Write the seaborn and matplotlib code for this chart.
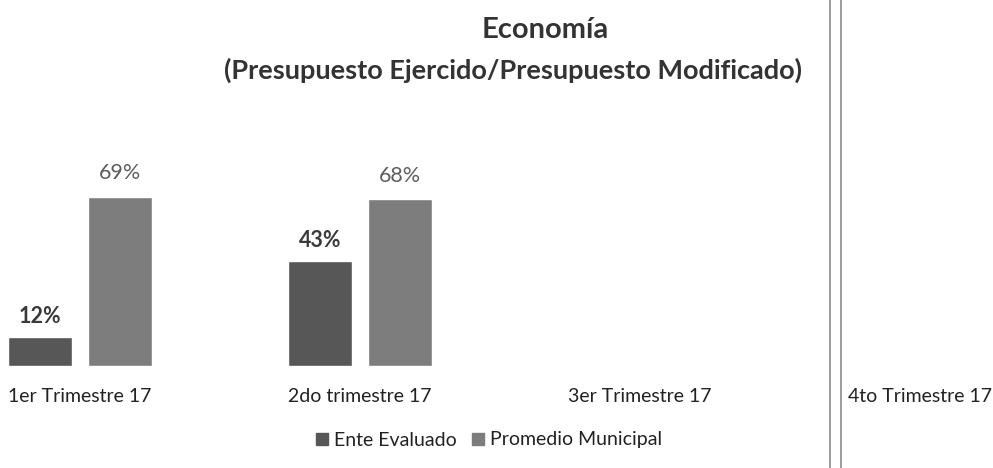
import matplotlib
matplotlib.use("Agg")
import matplotlib.pyplot as plt
import seaborn as sns
import pandas as pd
from matplotlib.lines import Line2D

sns.set_style("white")
plt.rcParams['font.family'] = ['Lato', 'DejaVu Sans']

trimestres = ["1er Trimestre 17", "2do trimestre 17", "3er Trimestre 17", "4to Trimestre 17"]
series = ["Ente Evaluado", "Promedio Municipal"]
ente = [12, 43]
promedio = [69, 68]
colores = ["#575757", "#7d7d7d"]

df = pd.DataFrame({
    "trimestre": trimestres[:2] * 2,
    "serie": [series[0]] * 2 + [series[1]] * 2,
    "valor": ente + promedio,
})

fig = plt.figure(figsize=(9.93, 4.68), dpi=100)
ax = fig.add_axes([0, 102 / 468, 1, 245 / 468])

sns.barplot(data=df, x="trimestre", y="valor", hue="serie", order=trimestres,
            hue_order=series, palette=colores, width=0.571, gap=0.2,
            saturation=1, ax=ax, legend=False)

ax.set_xlim(-80 / 280, 913 / 280)
ax.set_ylim(0, 100)
ax.set_xlabel("")
ax.set_ylabel("")
ax.set_yticks([])
ax.tick_params(axis="x", length=0, pad=16, labelsize=14, labelcolor="#222222")
sns.despine(ax=ax, left=True, bottom=True, top=True, right=True)

# etiquetas de datos
ax.bar_label(ax.containers[0], fmt="%d%%", padding=7, fontsize=15.5,
             fontweight="bold", color="#3a3a3a")
ax.bar_label(ax.containers[1], fmt="%d%%", padding=10, fontsize=15.5,
             color="#5e5e5e")

handles = [Line2D([], [], marker="s", linestyle="", markersize=8, color=c) for c in colores]
fig.legend(handles, series, loc="center", bbox_to_anchor=(487 / 993, 1 - 440 / 468),
           ncol=2, frameon=False, fontsize=14, handletextpad=0.1, columnspacing=0.6,
           handlelength=1.0, labelcolor="#222222")

fig.text(545 / 993, 1 - 30 / 468, "Economía", ha="center", va="center",
         fontsize=21, fontweight="bold", color="#333333")
fig.text(513 / 993, 1 - 70 / 468, "(Presupuesto Ejercido/Presupuesto Modificado)",
         ha="center", va="center", fontsize=19.5, fontweight="bold", color="#333333")

# línea doble del documento escaneado
for xp in (830, 841):
    fig.add_artist(Line2D([xp / 993, xp / 993], [0, 1], color="#8a8a8a", lw=1.2))

fig.savefig("out.png", dpi=100)
